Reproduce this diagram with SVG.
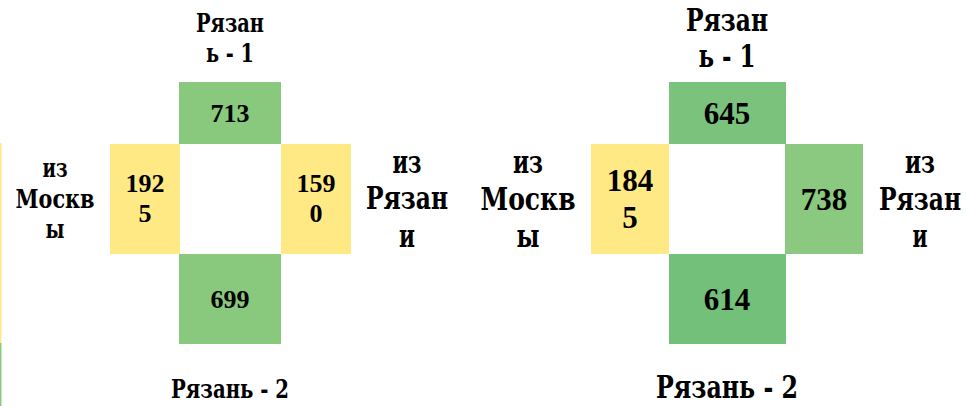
<svg xmlns="http://www.w3.org/2000/svg" width="966" height="406" viewBox="0 0 966 406">
<style>
text{font-family:"Liberation Serif","DejaVu Serif","Times New Roman",serif;font-weight:bold;fill:#000;text-anchor:middle}
.c{font-family:"DejaVu Serif","Liberation Serif",serif}
.s{font-size:26px}
.b{font-size:31px}
.y{fill:#FFE985}
.g{fill:#88C97E}
</style>
<rect width="966" height="406" fill="#fff"/>
<rect x="0" y="143" width="1.5" height="200" fill="#FFE985"/>
<rect x="0" y="343" width="1.5" height="63" fill="#88C97E"/>
<g id="connectors"></g>
<g id="left-top"><rect class="g" x="179" y="82" width="102" height="62"/><text class="s" x="230" y="122">713</text></g>
<g id="left-left"><rect class="y" x="110" y="144" width="70" height="110"/><text class="s" x="145" y="192">192</text><text class="s" x="145" y="222">5</text></g>
<g id="left-right"><rect class="y" x="281" y="144" width="70" height="110"/><text class="s" x="316" y="192">159</text><text class="s" x="316" y="222">0</text></g>
<g id="left-bottom"><rect class="g" x="179" y="254" width="102" height="90"/><text class="s" x="230" y="308">699</text></g>
<g id="left-label-top"><text class="s c" x="230" y="32" textLength="68" lengthAdjust="spacingAndGlyphs">Рязан</text><text class="s c" x="230" y="62" textLength="48" lengthAdjust="spacingAndGlyphs">ь - 1</text></g>
<g id="left-label-left"><text class="s c" x="55" y="177" textLength="25" lengthAdjust="spacingAndGlyphs">из</text><text class="s c" x="55" y="208" textLength="79" lengthAdjust="spacingAndGlyphs">Москв</text><text class="s c" x="55" y="238" textLength="19" lengthAdjust="spacingAndGlyphs">ы</text></g>
<g id="left-label-right"><text class="b c" x="407" y="173" textLength="29" lengthAdjust="spacingAndGlyphs">из</text><text class="b c" x="407" y="209" textLength="82" lengthAdjust="spacingAndGlyphs">Рязан</text><text class="b c" x="407" y="247" textLength="16" lengthAdjust="spacingAndGlyphs">и</text></g>
<g id="left-label-bottom"><text class="s c" x="230" y="398" textLength="118" lengthAdjust="spacingAndGlyphs">Рязань - 2</text></g>
<g id="right-top"><rect fill="#7BC37C" x="669" y="82" width="117" height="62"/><text class="b" x="727" y="124">645</text></g>
<g id="right-left"><rect class="y" x="591" y="144" width="78" height="110"/><text class="b" x="630" y="191">184</text><text class="b" x="630" y="228">5</text></g>
<g id="right-right"><rect fill="#8AC97F" x="785" y="144" width="78" height="110"/><text class="b" x="824" y="210">738</text></g>
<g id="right-bottom"><rect fill="#73C07A" x="669" y="254" width="117" height="90"/><text class="b" x="727" y="310">614</text></g>
<g id="right-label-top"><text class="b c" x="727" y="31" textLength="82" lengthAdjust="spacingAndGlyphs">Рязан</text><text class="b c" x="727" y="67" textLength="57" lengthAdjust="spacingAndGlyphs">ь - 1</text></g>
<g id="right-label-left"><text class="b c" x="528" y="173" textLength="30" lengthAdjust="spacingAndGlyphs">из</text><text class="b c" x="528" y="210" textLength="95" lengthAdjust="spacingAndGlyphs">Москв</text><text class="b c" x="528" y="247" textLength="23" lengthAdjust="spacingAndGlyphs">ы</text></g>
<g id="right-label-right"><text class="b c" x="920" y="173" textLength="30" lengthAdjust="spacingAndGlyphs">из</text><text class="b c" x="920" y="210" textLength="82" lengthAdjust="spacingAndGlyphs">Рязан</text><text class="b c" x="920" y="247" textLength="15" lengthAdjust="spacingAndGlyphs">и</text></g>
<g id="right-label-bottom"><text class="b c" x="727" y="398" textLength="142" lengthAdjust="spacingAndGlyphs">Рязань - 2</text></g>
</svg>
